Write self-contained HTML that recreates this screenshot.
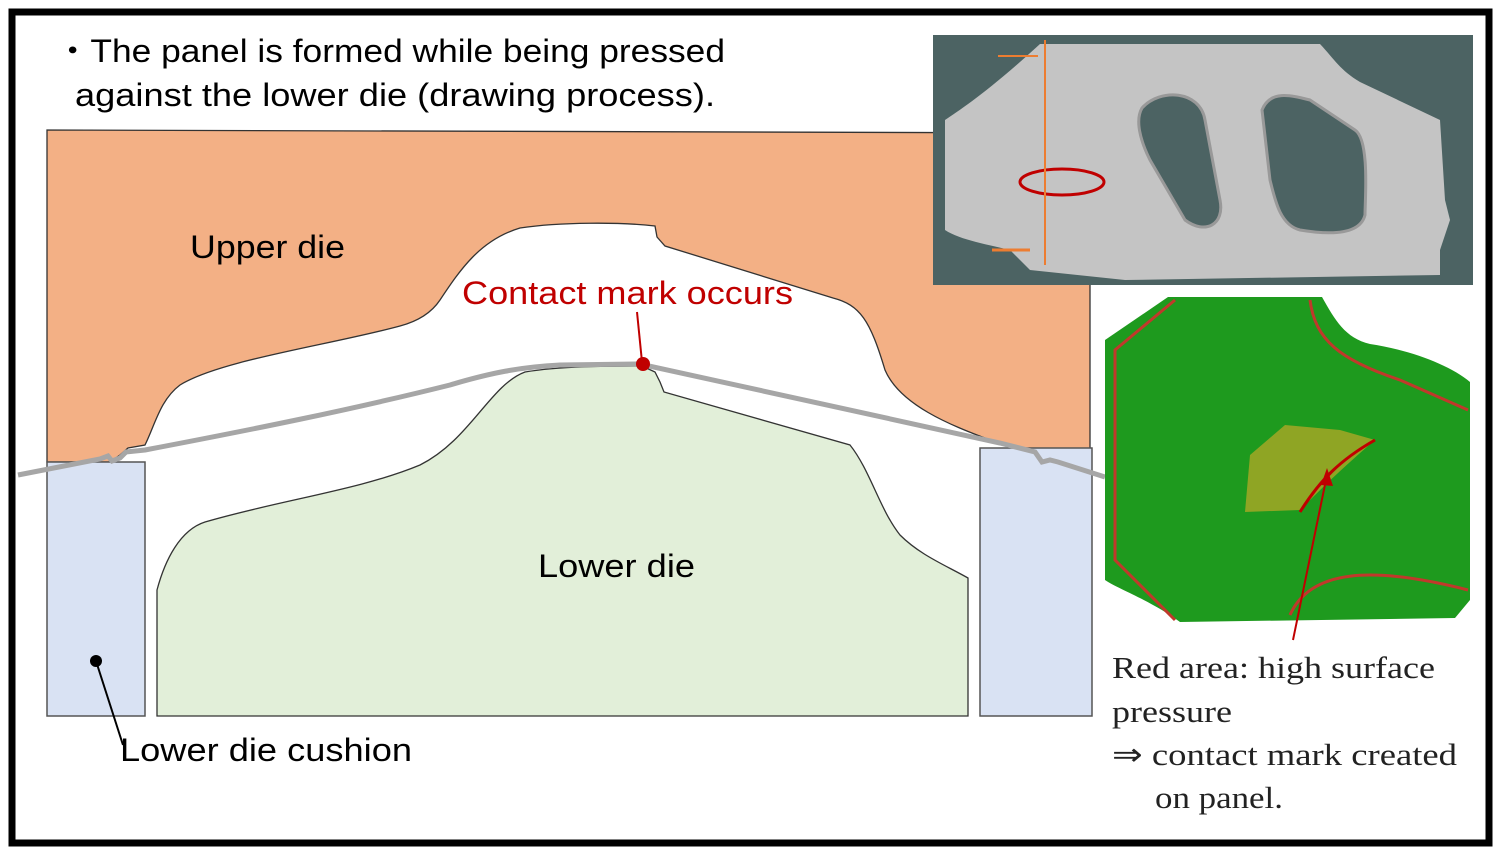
<!DOCTYPE html>
<html><head><style>
html,body{margin:0;padding:0;background:#fff;}
svg{display:block}
</style></head><body>
<svg width="1500" height="862" viewBox="0 0 1500 862" xmlns="http://www.w3.org/2000/svg">
<rect x="0" y="0" width="1500" height="862" fill="#fff"/>
<rect x="12" y="12" width="1477" height="831" fill="#fff" stroke="#000" stroke-width="7"/>
<!-- upper die -->
<path d="M47,130 L1090,133 L1090,466 L1062,460 L1045,460 L1038,452 L990,440 C950,425 900,405 885,370 C870,320 860,305 833,298 L665,246 L657,237 L655,226 C620,222 560,222 520,228 C480,240 460,270 440,300 C430,315 415,322 400,326 C330,345 220,360 180,385 C160,400 155,425 145,445 L128,448 L120,455 L110,462 L47,462 Z" fill="#f3b085" stroke="#333" stroke-width="1.3"/>
<!-- cushions -->
<rect x="47" y="462" width="98" height="254" fill="#d9e2f3" stroke="#555" stroke-width="1.5"/>
<rect x="980" y="448" width="112" height="268" fill="#d9e2f3" stroke="#555" stroke-width="1.5"/>
<!-- lower die -->
<path d="M157,716 L157,590 C165,560 180,530 205,522 C280,500 360,490 420,465 C470,440 490,385 525,372 C560,366 610,366 642,366 L655,372 L660,382 L664,392 L850,445 C870,470 880,510 900,535 C920,555 945,565 968,578 L968,716 Z" fill="#e2efd9" stroke="#333" stroke-width="1.3"/>
<!-- panel -->
<path d="M18,475 L100,459 L108,456 L112,461 L120,458 L126,452 L145,450 C250,430 350,410 450,385 C490,373 520,367 560,365 L640,364 L1000,443 L1035,452 L1042,462 L1050,460 L1058,462 L1105,477" fill="none" stroke="#a6a6a6" stroke-width="5"/>
<!-- contact mark -->
<line x1="637" y1="312" x2="642" y2="362" stroke="#c00000" stroke-width="2"/>
<circle cx="643" cy="364" r="7" fill="#c00000"/>
<g font-family="Liberation Sans, sans-serif" font-size="32">
<text x="462" y="304" fill="#c00000" textLength="331" lengthAdjust="spacingAndGlyphs">Contact mark occurs</text>
<text x="190" y="258" fill="#000" textLength="155" lengthAdjust="spacingAndGlyphs">Upper die</text>
<text x="538" y="577" fill="#000" textLength="157" lengthAdjust="spacingAndGlyphs">Lower die</text>
<text x="120" y="761" fill="#000" textLength="292" lengthAdjust="spacingAndGlyphs">Lower die cushion</text>
<text x="55" y="62" fill="#000" textLength="670" lengthAdjust="spacingAndGlyphs">・The panel is formed while being pressed</text>
<text x="75" y="106" fill="#000" textLength="640" lengthAdjust="spacingAndGlyphs">against the lower die (drawing process).</text>
</g>
<circle cx="96" cy="661" r="6" fill="#000"/>
<line x1="96" y1="661" x2="123" y2="745" stroke="#000" stroke-width="2"/>
<!-- top right photo -->
<rect x="933" y="35" width="540" height="250" fill="#4c6363"/>
<path d="M1040,44 L1320,44 C1335,60 1340,70 1360,82 L1440,120 L1445,200 L1450,220 L1440,250 L1440,275 L1125,280 L1030,270 L1010,250 C990,245 960,240 945,230 L945,120 C960,110 990,90 1040,44 Z" fill="#c4c4c4"/>
<path d="M1142,108 C1160,88 1200,90 1205,120 L1220,200 C1225,225 1205,235 1185,220 L1150,160 C1140,140 1135,120 1142,108 Z" fill="#4c6363" stroke="#999" stroke-width="3"/>
<path d="M1262,110 C1270,90 1290,95 1310,100 L1355,130 C1370,140 1365,200 1365,215 C1360,235 1330,235 1300,230 C1280,225 1275,200 1270,180 Z" fill="#4c6363" stroke="#999" stroke-width="3"/>
<ellipse cx="1062" cy="182" rx="42" ry="13" fill="none" stroke="#c00000" stroke-width="3"/>
<line x1="1045" y1="40" x2="1045" y2="265" stroke="#ed7d31" stroke-width="2"/>
<line x1="998" y1="56" x2="1038" y2="56" stroke="#ed7d31" stroke-width="2"/>
<line x1="992" y1="250" x2="1030" y2="250" stroke="#ed7d31" stroke-width="3"/>
<!-- green photo -->
<path d="M1168,297 L1322,297 C1335,320 1345,338 1370,344 C1410,350 1450,365 1470,382 L1470,600 L1455,618 L1180,622 C1150,600 1120,590 1105,580 L1105,340 Z" fill="#1e9a1e"/>
<path d="M1175,300 L1115,350 L1115,560 L1175,620" fill="none" stroke="#c0392b" stroke-width="3"/>
<path d="M1310,300 C1315,340 1340,360 1400,380 L1468,410" fill="none" stroke="#c0392b" stroke-width="3"/>
<path d="M1290,615 C1310,570 1370,565 1468,590" fill="none" stroke="#c0392b" stroke-width="3"/>
<path d="M1250,455 L1285,425 L1340,430 L1375,440 C1340,470 1320,490 1300,510 L1245,512 Z" fill="#8fa524"/>
<path d="M1375,440 C1340,460 1320,480 1300,512" fill="none" stroke="#c00000" stroke-width="3"/>
<line x1="1293" y1="640" x2="1327" y2="475" stroke="#c00000" stroke-width="2"/>
<polygon points="1327,468 1321,485 1333,486" fill="#c00000"/>
<g font-family="Liberation Serif, serif" font-size="31" fill="#222">
<text x="1112" y="678" textLength="323" lengthAdjust="spacingAndGlyphs">Red area: high  surface</text>
<text x="1112" y="722" textLength="120" lengthAdjust="spacingAndGlyphs">pressure</text>
<text x="1112" y="765" textLength="345" lengthAdjust="spacingAndGlyphs">⇒ contact mark created</text>
<text x="1155" y="808" textLength="128" lengthAdjust="spacingAndGlyphs">on panel.</text>
</g>
</svg>
</body></html>
